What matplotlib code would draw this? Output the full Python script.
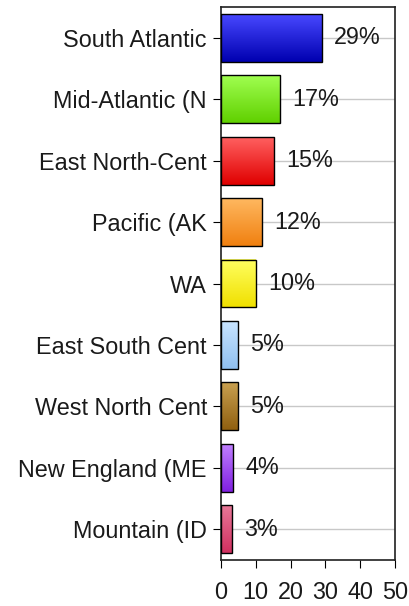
import matplotlib.pyplot as plt
from matplotlib.colors import LinearSegmentedColormap
import numpy as np

regions = ['South Atlantic', 'Mid-Atlantic (N', 'East North-Cent', 'Pacific (AK',
           'WA', 'East South Cent', 'West North Cent', 'New England (ME', 'Mountain (ID']
values = [29.0, 17.1, 15.3, 11.9, 10.0, 4.8, 4.8, 3.6, 3.1]
labels = ['29%', '17%', '15%', '12%', '10%', '5%', '5%', '4%', '3%']
# (top colour, bottom colour) for the gradient fill
top_colors = ['#4848ff', '#a0ff50', '#ff6060', '#ffb860', '#ffff60', '#c8e4ff', '#c8a050', '#c080ff', '#e87898']
bot_colors = ['#0000b0', '#60d000', '#e00000', '#f08010', '#f0e000', '#90c0f0', '#906010', '#8020e0', '#d03060']

plt.rcParams['font.family'] = ['Liberation Sans', 'DejaVu Sans']
fs = 16.8

fig = plt.figure(figsize=(4.09, 6.06), dpi=100)
ax = fig.add_axes([0.540, 0.0759, 0.426, 0.9125])

bar_h = 0.78
ys = np.arange(len(regions))
bars = ax.barh(ys, values, height=bar_h, color='none', edgecolor='black', linewidth=1.0, zorder=3)

grad = np.linspace(0, 1, 64).reshape(-1, 1)
for b, c1, c2 in zip(bars, top_colors, bot_colors):
    x0, y0 = b.get_x(), b.get_y()
    w, h = b.get_width(), b.get_height()
    cm = LinearSegmentedColormap.from_list('g', [c1, c2])
    ax.imshow(grad, cmap=cm, aspect='auto', extent=[x0, x0 + w, y0 + h, y0],
              origin='upper', zorder=2, interpolation='bilinear')

for y, v, t in zip(ys, values, labels):
    ax.annotate(t, (v, y), xytext=(8.8, 0), textcoords='offset points',
                va='center', ha='left', fontsize=fs, color='#1a1a1a', zorder=4)

ax.set_xlim(0, 50)
ax.set_ylim(len(regions) - 0.5, -0.5)
ax.set_yticks(ys)
ax.set_yticklabels(regions, fontsize=fs, color='#1a1a1a')
ax.set_xticks([0, 10, 20, 30, 40, 50])
ax.tick_params(axis='x', labelsize=fs, labelcolor='#1a1a1a', direction='out', length=6, pad=9)
ax.tick_params(axis='y', direction='out', length=6, pad=4)
ax.grid(axis='y', color='#c8c8c8', linewidth=1.0, zorder=0)
ax.set_axisbelow(True)
for s in ax.spines.values():
    s.set_linewidth(1.2)
    s.set_color('#202020')

plt.savefig('out.png', dpi=100)
